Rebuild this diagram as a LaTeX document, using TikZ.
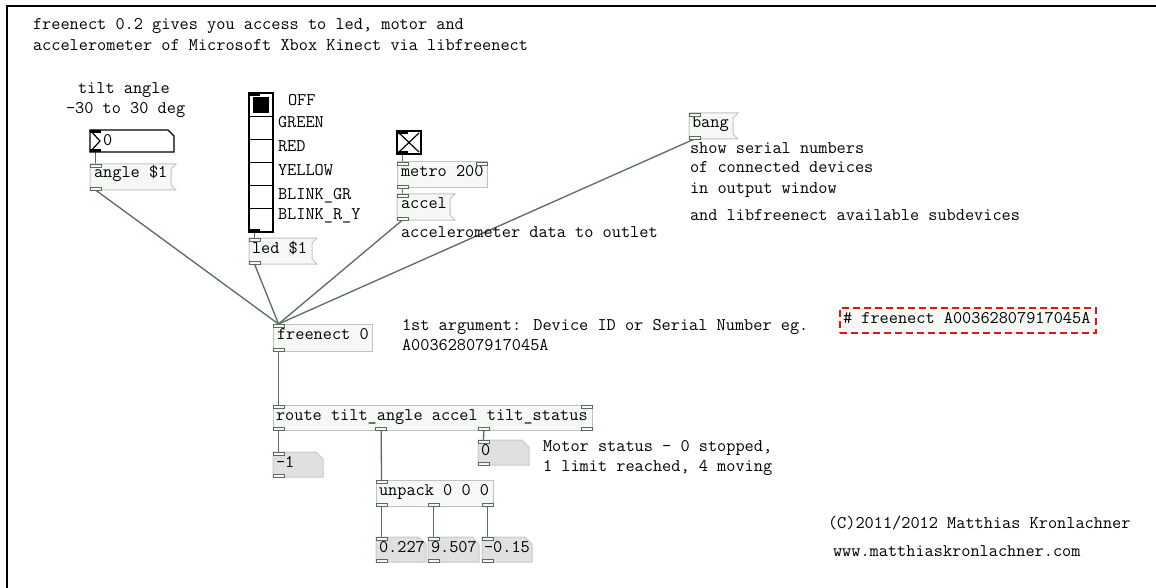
\documentclass[tikz,border=0pt]{standalone}
\usepackage{fontspec}
\usetikzlibrary{calc}
\pgfdeclarelayer{cords}
\pgfsetlayers{cords,main}

\definecolor{cordcol}{HTML}{586C5C}
\definecolor{objfill}{HTML}{F6F8F6}
\definecolor{objline}{HTML}{C2C2C2}
\definecolor{atomfill}{HTML}{E0E0E0}
\definecolor{atomline}{HTML}{C8C8C8}
\definecolor{notered}{HTML}{F01010}

\tikzset{
  txt/.style={anchor=base west, inner sep=0pt, outer sep=0pt,
    font=\ttfamily\fontsize{17.8}{20}\selectfont},
  boxarea/.style={draw=none, inner sep=0pt, outer sep=0pt, anchor=north west},
  objbox/.style={boxarea, draw=objline, fill=objfill, line width=1pt},
  msgline/.style={draw=objline, fill=objfill, line width=1pt},
  atomstyle/.style={draw=atomline, fill=atomfill, line width=1pt},
  port/.style={draw=cordcol, fill=objfill, line width=0.9pt, inner sep=0pt,
    outer sep=0pt, minimum width=11pt, minimum height=3pt, anchor=north west},
  outport/.style={port, anchor=south west},
  iemport/.style={fill=black, draw=none, inner sep=0pt, outer sep=0pt,
    minimum width=11pt, minimum height=3pt, anchor=north west},
  iemout/.style={iemport, anchor=south west},
  iemline/.style={draw=black, line width=1.2pt},
  cord/.style={draw=cordcol, line width=1.3pt},
}

% object box: name, x1, y1, x2, y2
\newcommand\pdobj[5]{%
  \node[objbox, minimum width={#4-#2}, minimum height={#5-#3}] (#1) at (#2,#3) {};}
% message box with the flag-shaped right edge
\newcommand\pdmsg[5]{%
  \node[boxarea, minimum width={#4-#2}, minimum height={#5-#3}] (#1) at (#2,#3) {};
  \draw[msgline] (#1.north west) -- ([xshift=5pt]#1.north east)
    -- ([yshift=-5pt]#1.north east) -- ([yshift=5pt]#1.south east)
    -- ([xshift=5pt]#1.south east) -- (#1.south west) -- cycle;}
% number atom with the clipped top-right corner
\newcommand\pdatom[5]{%
  \node[boxarea, minimum width={#4-#2}, minimum height={#5-#3}] (#1) at (#2,#3) {};
  \draw[atomstyle] (#1.north west) -- ([xshift=-7pt]#1.north east)
    -- ([yshift=-7pt]#1.north east) -- (#1.south east) -- (#1.south west) -- cycle;}
% left inlet and left outlet of a box
\newcommand\ports[1]{%
  \node[port] (#1-i0) at (#1.north west) {};
  \node[outport] (#1-o0) at (#1.south west) {};}

\begin{document}
\begin{tikzpicture}[x=1pt, y=-1pt]
\useasboundingbox (0,0) rectangle (1156,588);

% canvas frame
\draw[black, line width=2pt] (7,588) -- (7,6) -- (1156,6);

% header comment
\node[txt] (head1) at (33,30) {freenect 0.2 gives you access to led, motor and};
\node[txt] (head2) at (33,51) {accelerometer of Microsoft Xbox Kinect via libfreenect};

% ---- tilt angle number box
\node[txt] (tilt1) at (78,94) {tilt angle};
\node[txt] (tilt2) at (66,114) {-30 to 30 deg};
\node[boxarea, minimum width=84, minimum height=22] (nbx) at (90,130) {};
\draw[iemline, fill=white] (nbx.north west) -- ([xshift=-6pt]nbx.north east)
  -- ([yshift=-6pt]nbx.north east) -- (nbx.south east) -- (nbx.south west) -- cycle;
\draw[iemline] (nbx.north west) -- ([xshift=10pt]nbx.west) -- (nbx.south west);
\node[txt] (nbxval) at (103,146) {0};
\node[iemport] (nbx-i0) at (nbx.north west) {};
\node[iemout] (nbx-o0) at (nbx.south west) {};

\pdmsg{ang}{90}{164}{171}{190}
\node[txt] (angt) at (94,178) {angle \$1};
\ports{ang}

% ---- LED radio
\node[boxarea, minimum width=24, minimum height=139] (radio) at (249,93) {};
\draw[black, line width=1.2pt, fill=white] (radio.north west) rectangle (radio.south east);
\foreach \k in {1,...,5}
  \draw[black, line width=1pt] (249,{93+23.17*\k}) -- (273,{93+23.17*\k});
\fill[black] (253,97) rectangle (269,113);
\node[iemport] (radio-i0) at (radio.north west) {};
\node[iemout] (radio-o0) at (radio.south west) {};
\node[txt] (l0) at (288,106) {OFF};
\node[txt] (l1) at (278,128) {GREEN};
\node[txt] (l2) at (278,152) {RED};
\node[txt] (l3) at (278,176) {YELLOW};
\node[txt] (l4) at (278,200) {BLINK\_GR};
\node[txt] (l5) at (278,219) {BLINK\_R\_Y};

\pdmsg{led}{249}{238}{312}{264}
\node[txt] (ledt) at (252,253) {led \$1};
\ports{led}

% ---- accelerometer polling
\node[boxarea, minimum width=24, minimum height=23] (tgl) at (397,131) {};
\draw[black, line width=1.2pt, fill=white] (tgl.north west) rectangle (tgl.south east);
\draw[black, line width=1.2pt] (399,133) -- (419,152) (419,133) -- (399,152);
\node[iemport] (tgl-i0) at (tgl.north west) {};
\node[iemout] (tgl-o0) at (tgl.south west) {};

\pdobj{metro}{397}{162}{487}{188}
\node[txt] (metrot) at (401,177) {metro 200};
\ports{metro}
\node[port, anchor=north east] (metro-i1) at (metro.north east) {};

\pdmsg{acc}{397}{194}{450}{220}
\node[txt] (acct) at (401,208) {accel};
\ports{acc}
\node[txt] (accnote) at (401,237) {accelerometer data to outlet};

% ---- serial numbers
\pdmsg{bang}{689}{113}{733}{139}
\node[txt] (bangt) at (692,128) {bang};
\ports{bang}
\node[txt] (s1) at (690,154) {show serial numbers};
\node[txt] (s2) at (690,173) {of connected devices};
\node[txt] (s3) at (690,194) {in output window};
\node[txt] (s4) at (690,220) {and libfreenect available subdevices};

% ---- the external
\pdobj{fn}{273}{324}{372}{351}
\node[txt] (fnt) at (277,339) {freenect 0};
\ports{fn}
\node[txt] (arg1) at (402,330) {1st argument: Device ID or Serial Number eg.};
\node[txt] (arg2) at (402,350) {A00362807917045A};

\node[boxarea, minimum width=256, minimum height=25, fill=objfill, draw=notered,
  line width=1.5pt, dash pattern=on 7pt off 4pt] (alt) at (840,308) {};
\node[txt] (altt) at (843,323) {\# freenect A00362807917045A};

% ---- output routing
\pdobj{route}{273}{405}{592}{430}
\node[txt] (routet) at (276,420) {route tilt\_angle accel tilt\_status};
\ports{route}
\node[port, anchor=north east] (route-i1) at (route.north east) {};
\node[outport] (route-o1) at (375.7,430) {};
\node[outport] (route-o2) at (478.3,430) {};
\node[outport, anchor=south east] (route-o3) at (route.south east) {};

\pdatom{tilt}{273}{452}{323}{477}
\node[txt] (tiltv) at (276,467) {-1};
\ports{tilt}

\pdatom{stat}{478}{440}{529}{465}
\node[txt] (statv) at (481,455) {0};
\ports{stat}
\node[txt] (m1) at (543,451) {Motor status - 0 stopped,};
\node[txt] (m2) at (543,471) {1 limit reached, 4 moving};

\pdobj{unp}{376}{480}{493}{506}
\node[txt] (unpt) at (379,495) {unpack 0 0 0};
\ports{unp}
\node[outport] (unp-o1) at (428,506) {};
\node[outport, anchor=south east] (unp-o2) at (unp.south east) {};

\pdatom{ax}{376}{537}{426}{562}
\node[txt] (axv) at (379,552) {0.227};
\ports{ax}
\pdatom{ay}{428}{537}{479}{562}
\node[txt] (ayv) at (431,552) {9.507};
\ports{ay}
\pdatom{az}{482}{537}{532}{562}
\node[txt] (azv) at (484,552) {-0.15};
\ports{az}

% credits
\node[txt] (c1) at (828,528) {(C)2011/2012 Matthias Kronlachner};
\node[txt] (c2) at (833,556) {www.matthiaskronlachner.com};

% ---- connections
\begin{pgfonlayer}{cords}
\draw[cord] (nbx-o0.south) -- (ang-i0.north);
\draw[cord] (radio-o0.south) -- (led-i0.north);
\draw[cord] (tgl-o0.south) -- (metro-i0.north);
\draw[cord] (metro-o0.south) -- (acc-i0.north);
\draw[cord] (ang-o0.south) -- (fn-i0.north);
\draw[cord] (led-o0.south) -- (fn-i0.north);
\draw[cord] (acc-o0.south) -- (fn-i0.north);
\draw[cord] (bang-o0.south) -- (fn-i0.north);
\draw[cord] (fn-o0.south) -- (route-i0.north);
\draw[cord] (route-o0.south) -- (tilt-i0.north);
\draw[cord] (route-o1.south) -- (unp-i0.north);
\draw[cord] (route-o2.south) -- (stat-i0.north);
\draw[cord] (unp-o0.south) -- (ax-i0.north);
\draw[cord] (unp-o1.south) -- (ay-i0.north);
\draw[cord] (unp-o2.south) -- (az-i0.north);
\end{pgfonlayer}
\end{tikzpicture}
\end{document}
